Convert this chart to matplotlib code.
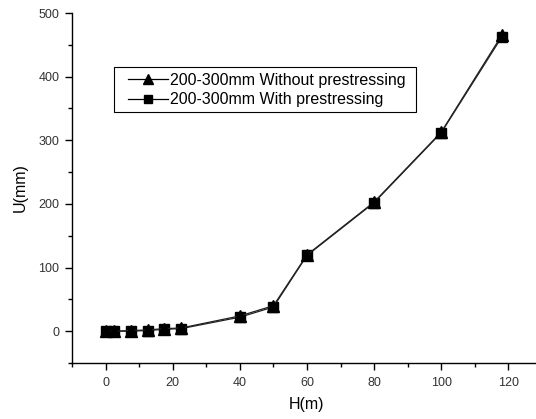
import matplotlib
matplotlib.use("Agg")
import matplotlib.pyplot as plt
from matplotlib.lines import Line2D
from matplotlib.patches import Rectangle
from matplotlib.ticker import MultipleLocator

# Lateral displacement U vs. height H, 200-300mm section
h_without = [0, 2.5, 7.5, 12.5, 17.5, 22.5, 40, 50, 60, 80, 100, 118]
u_without = [0, 0, 1, 2, 4, 5, 24, 40, 120, 203, 313, 465]

h_with = [0, 2.5, 7.5, 12.5, 17.5, 22.5, 40, 50, 60, 80, 100, 118]
u_with = [0, 0, 0, 1, 3, 4, 22, 38, 119, 202, 312, 462]

labels = ["200-300mm Without prestressing", "200-300mm With prestressing"]

plt.rcParams["font.family"] = ["Liberation Sans", "DejaVu Sans"]

W, H = 536, 419
fig = plt.figure(figsize=(W / 100, H / 100), dpi=100)
ax = fig.add_axes([72 / W, 56 / H, 470 / W, 350 / H])

ax.plot(h_without, u_without, color="#222222", linewidth=0.9, marker="^",
        markersize=8, markerfacecolor="black", markeredgecolor="black",
        zorder=3)
ax.plot(h_with, u_with, color="#222222", linewidth=0.9, marker="s",
        markersize=6.5, markerfacecolor="black", markeredgecolor="black",
        zorder=2)

ax.set_xlim(-10, 130)
ax.set_ylim(-50, 500)
ax.xaxis.set_major_locator(MultipleLocator(20))
ax.xaxis.set_minor_locator(MultipleLocator(10))
ax.yaxis.set_major_locator(MultipleLocator(100))
ax.yaxis.set_minor_locator(MultipleLocator(50))

for side in ("top", "right"):
    ax.spines[side].set_visible(False)
for side in ("left", "bottom"):
    ax.spines[side].set_linewidth(1.0)

ax.tick_params(which="major", direction="out", length=5, width=1,
               labelsize=9, labelcolor="#333333", pad=5)
ax.tick_params(axis="y", which="major", pad=4)
ax.tick_params(which="minor", direction="out", length=3, width=1)

ax.set_xlabel("H(m)", fontsize=11.5, labelpad=6)
ax.set_ylabel("U(mm)", fontsize=11.5, labelpad=8)

# legend box drawn separately so the handles sit further in from the edge
box = Rectangle((114 / W, 1 - 112 / H), (416 - 114) / W, (112 - 67) / H,
                transform=fig.transFigure, facecolor="white",
                edgecolor="black", linewidth=0.8, zorder=4)
fig.add_artist(box)

handles = [
    Line2D([], [], color="black", linewidth=0.9, marker="^", markersize=7),
    Line2D([], [], color="black", linewidth=0.9, marker="s", markersize=5.5),
]
leg = fig.legend(handles, labels, loc="center left",
                 bbox_to_anchor=(128 / W, 1 - 90 / H),
                 bbox_transform=fig.transFigure, borderaxespad=0,
                 borderpad=0, fontsize=11.5, frameon=False,
                 handlelength=2.5, handletextpad=0.15,
                 labelspacing=0.28, numpoints=1)
leg.set_zorder(5)

fig.savefig("out.png", dpi=100)
